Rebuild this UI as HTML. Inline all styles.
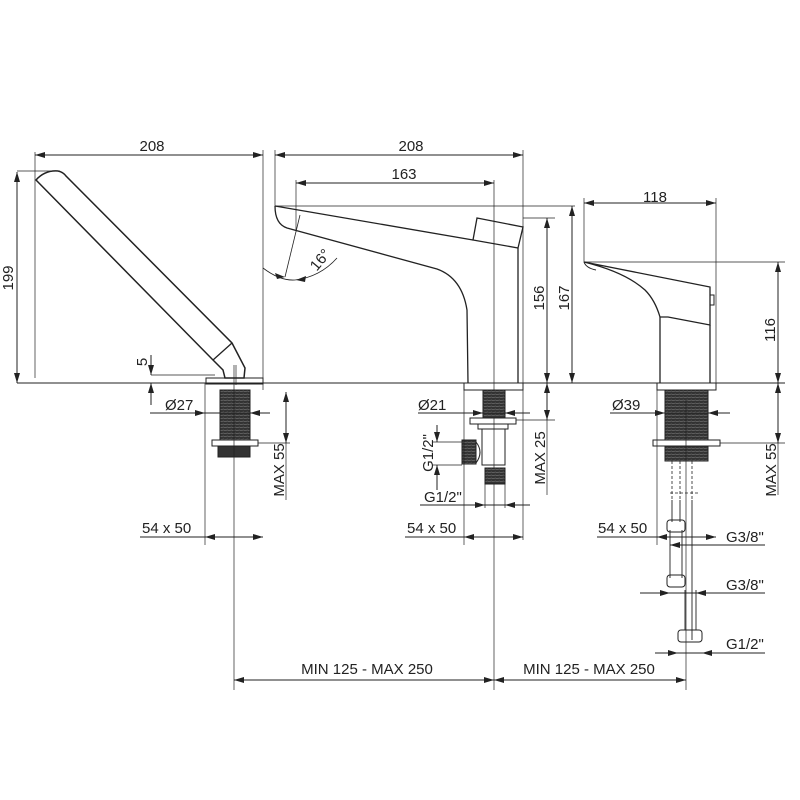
<!DOCTYPE html>
<html><head><meta charset="utf-8"><style>html,body{margin:0;padding:0;background:#fff}svg{display:block}text{font-family:"Liberation Sans",sans-serif;font-size:15px;fill:#222}</style></head>
<body>
<svg width="800" height="800" viewBox="0 0 800 800" xmlns="http://www.w3.org/2000/svg">
<defs>
<marker id="a" viewBox="0 0 10 6" refX="10" refY="3" markerWidth="10" markerHeight="6" orient="auto-start-reverse" markerUnits="userSpaceOnUse"><path d="M0,0L10,3L0,6z" fill="#222"/></marker>
<pattern id="th" width="4" height="3" patternUnits="userSpaceOnUse"><rect width="4" height="3" fill="#333"/><line x1="0" y1="1.5" x2="4" y2="1" stroke="#888" stroke-width="0.5"/></pattern>
</defs>
<g stroke="#222" stroke-width="1" fill="none">
<line x1="17" y1="383" x2="785" y2="383"/>
<!-- LEFT -->
<line x1="35" y1="155" x2="263" y2="155" marker-start="url(#a)" marker-end="url(#a)"/>
<line x1="35" y1="152" x2="35" y2="378" stroke-width="0.7"/>
<line x1="263" y1="150" x2="263" y2="390" stroke-width="0.7"/>
<line x1="17" y1="171" x2="60" y2="171" stroke-width="0.7"/>
<line x1="17" y1="172" x2="17" y2="383" marker-start="url(#a)" marker-end="url(#a)"/>
<path d="M36,180 Q45,170 58,171 Q63,172 66,176 L232,343 L245,368 L244,378 L225,378 L223,370 L213,360 Z" stroke-width="1.5"/>
<line x1="213" y1="360" x2="232" y2="343" stroke-width="1.3"/>
<line x1="236" y1="365" x2="236" y2="385" stroke-width="0.7"/>
<rect x="206" y="378" width="57" height="6"/>
<rect x="220" y="390" width="30" height="50" fill="url(#th)"/>
<rect x="212" y="440" width="46" height="6"/>
<rect x="218" y="446" width="32" height="11" fill="#333"/>
<line x1="151" y1="355" x2="151" y2="375" marker-end="url(#a)"/>
<line x1="151" y1="383" x2="151" y2="405" marker-start="url(#a)"/>
<line x1="151" y1="375" x2="215" y2="375" stroke-width="0.7"/>
<line x1="150" y1="413" x2="270" y2="413"/>
<path d="M205,413l-10,-3v6z M250,413l10,-3v6z" fill="#222" stroke="none"/>
<line x1="205" y1="383" x2="205" y2="545" stroke-width="0.7"/>
<line x1="258" y1="443" x2="290" y2="443" stroke-width="0.7"/>
<line x1="286" y1="392" x2="286" y2="443" marker-start="url(#a)" marker-end="url(#a)"/>
<line x1="286" y1="443" x2="286" y2="500" stroke-width="0.7"/>
<line x1="140" y1="537" x2="263" y2="537"/>
<path d="M205,537l10,-3v6z M263,537l-10,-3v6z" fill="#222" stroke="none"/>
<line x1="234" y1="365" x2="234" y2="690" stroke-width="0.7"/>
<line x1="234" y1="680" x2="494" y2="680" marker-start="url(#a)" marker-end="url(#a)"/>
<!-- MIDDLE -->
<line x1="275" y1="155" x2="523" y2="155" marker-start="url(#a)" marker-end="url(#a)"/>
<line x1="275" y1="150" x2="275" y2="206" stroke-width="0.7"/>
<line x1="523" y1="150" x2="523" y2="540" stroke-width="0.7"/>
<line x1="296" y1="183" x2="494" y2="183" marker-start="url(#a)" marker-end="url(#a)"/>
<line x1="296" y1="180" x2="296" y2="230" stroke-width="0.7"/>
<line x1="494" y1="180" x2="494" y2="690" stroke-width="0.7"/>
<line x1="275" y1="206" x2="575" y2="206" stroke-width="0.7"/>
<path d="M275,206 Q275,224 287,228 L437,269 Q462,278 467,310 L468,383" stroke-width="1.3"/>
<path d="M275,206 L473,240" stroke-width="1.3"/>
<path d="M477,218 L523,227 L518,248 L473,240 Z" stroke-width="1.3"/>
<line x1="518" y1="248" x2="518" y2="383" stroke-width="1.3"/>
<line x1="300" y1="215" x2="285" y2="277" stroke-width="0.8"/>
<path d="M263,268 Q280,281 295,280 Q320,277 337,258" stroke-width="0.8"/>
<path d="M285,277l-10,-4l2,6z M296,280l10,-4l-1,6z" fill="#222" stroke="none"/>
<line x1="523" y1="218" x2="555" y2="218" stroke-width="0.7"/>
<line x1="547" y1="218" x2="547" y2="383" marker-start="url(#a)" marker-end="url(#a)"/>
<line x1="572" y1="206" x2="572" y2="383" marker-start="url(#a)" marker-end="url(#a)"/>
<rect x="464" y="383" width="59" height="7"/>
<rect x="483" y="390" width="22" height="28" fill="url(#th)"/>
<rect x="470" y="418" width="46" height="6"/>
<rect x="478" y="424" width="30" height="5"/>
<rect x="482" y="429" width="23" height="36"/>
<rect x="462" y="440" width="14" height="24" fill="url(#th)"/>
<path d="M476,442 Q484,452 476,463"/>
<rect x="485" y="468" width="20" height="16" fill="url(#th)"/>
<line x1="418" y1="413" x2="530" y2="413"/>
<path d="M483,413l-10,-3v6z M505,413l10,-3v6z" fill="#222" stroke="none"/>
<line x1="437" y1="425" x2="437" y2="442" marker-end="url(#a)"/>
<line x1="437" y1="465" x2="437" y2="490" marker-start="url(#a)"/>
<line x1="432" y1="442" x2="462" y2="442" stroke-width="0.7"/>
<line x1="432" y1="465" x2="462" y2="465" stroke-width="0.7"/>
<line x1="420" y1="505" x2="530" y2="505"/>
<path d="M485,505l-10,-3v6z M505,505l10,-3v6z" fill="#222" stroke="none"/>
<line x1="485" y1="484" x2="485" y2="508" stroke-width="0.7"/>
<line x1="505" y1="484" x2="505" y2="508" stroke-width="0.7"/>
<line x1="464" y1="383" x2="464" y2="545" stroke-width="0.7"/>
<line x1="516" y1="420" x2="555" y2="420" stroke-width="0.7"/>
<line x1="547" y1="383" x2="547" y2="420" marker-start="url(#a)" marker-end="url(#a)"/>
<line x1="547" y1="420" x2="547" y2="495" stroke-width="0.7"/>
<line x1="405" y1="537" x2="523" y2="537"/>
<path d="M464,537l10,-3v6z M523,537l-10,-3v6z" fill="#222" stroke="none"/>
<line x1="494" y1="680" x2="686" y2="680" marker-start="url(#a)" marker-end="url(#a)"/>
<!-- RIGHT -->
<line x1="584" y1="203" x2="716" y2="203" marker-start="url(#a)" marker-end="url(#a)"/>
<line x1="584" y1="198" x2="584" y2="262" stroke-width="0.7"/>
<line x1="716" y1="198" x2="716" y2="383" stroke-width="0.7"/>
<line x1="584" y1="262" x2="785" y2="262" stroke-width="0.7"/>
<path d="M584,262 L710,287 L710,325 L668,317 L660,317 Q655,300 645,290 Q625,272 584,262 Z" stroke-width="1.3"/>
<path d="M584,262 Q586,268 596,270" stroke-width="1"/>
<rect x="710" y="295" width="4" height="10" stroke-width="1"/>
<path d="M660,317 L660,383 M710,325 L710,383" stroke-width="1.3"/>
<line x1="778" y1="262" x2="778" y2="383" marker-start="url(#a)" marker-end="url(#a)"/>
<rect x="657" y="383" width="59" height="7"/>
<rect x="665" y="390" width="43" height="50" fill="url(#th)"/>
<rect x="653" y="440" width="67" height="6"/>
<rect x="665" y="446" width="43" height="15" fill="url(#th)"/>
<line x1="610" y1="413" x2="730" y2="413"/>
<path d="M665,413l-10,-3v6z M708,413l10,-3v6z" fill="#222" stroke="none"/>
<line x1="720" y1="443" x2="785" y2="443" stroke-width="0.7"/>
<line x1="778" y1="383" x2="778" y2="443" marker-start="url(#a)" marker-end="url(#a)"/>
<line x1="778" y1="443" x2="778" y2="495" stroke-width="0.7"/>
<g stroke-dasharray="3,2" stroke-width="0.8"><line x1="672" y1="461" x2="672" y2="500"/><line x1="680" y1="461" x2="680" y2="500"/><line x1="692" y1="461" x2="692" y2="500"/><line x1="670" y1="493" x2="698" y2="493"/></g>
<path d="M672,500 V522 M680,500 V522 M670,530 V578 M682,530 V578 M685,590 V630 M696,590 V630 M692,500 V640" stroke-width="0.9"/>
<rect x="667" y="520" width="18" height="12" rx="3"/>
<rect x="667" y="575" width="18" height="12" rx="3"/>
<rect x="678" y="630" width="24" height="12" rx="3"/>
<line x1="657" y1="390" x2="657" y2="545" stroke-width="0.7"/>
<line x1="597" y1="537" x2="716" y2="537"/>
<path d="M657,537l10,-3v6z M716,537l-10,-3v6z" fill="#222" stroke="none"/>
<line x1="670" y1="545" x2="765" y2="545"/>
<path d="M670,545l10,-3v6z" fill="#222" stroke="none"/>
<line x1="640" y1="593" x2="765" y2="593"/>
<path d="M670,593l-10,-3v6z M696,593l10,-3v6z" fill="#222" stroke="none"/>
<line x1="655" y1="653" x2="765" y2="653"/>
<path d="M678,653l-10,-3v6z M702,653l10,-3v6z" fill="#222" stroke="none"/>
<line x1="686" y1="400" x2="686" y2="690" stroke-width="0.7"/>
</g>
<text x="152" y="151" text-anchor="middle">208</text>
<text x="411" y="151" text-anchor="middle">208</text>
<text x="404" y="179" text-anchor="middle">163</text>
<text x="655" y="202" text-anchor="middle">118</text>
<text transform="translate(13,278) rotate(-90)" text-anchor="middle">199</text>
<text transform="translate(147,362) rotate(-90)" text-anchor="middle">5</text>
<text x="165" y="410">Ø27</text>
<text x="418" y="410">Ø21</text>
<text x="612" y="410">Ø39</text>
<text transform="translate(284,470) rotate(-90)" text-anchor="middle">MAX 55</text>
<text transform="translate(776,470) rotate(-90)" text-anchor="middle">MAX 55</text>
<text transform="translate(545,458) rotate(-90)" text-anchor="middle">MAX 25</text>
<text transform="translate(544,298) rotate(-90)" text-anchor="middle">156</text>
<text transform="translate(569,298) rotate(-90)" text-anchor="middle">167</text>
<text transform="translate(775,330) rotate(-90)" text-anchor="middle">116</text>
<text transform="translate(324,263) rotate(-50)" text-anchor="middle">16°</text>
<text transform="translate(433,453) rotate(-90)" text-anchor="middle">G1/2"</text>
<text x="424" y="502">G1/2"</text>
<text x="142" y="533">54 x 50</text>
<text x="407" y="533">54 x 50</text>
<text x="598" y="533">54 x 50</text>
<text x="726" y="542">G3/8"</text>
<text x="726" y="590">G3/8"</text>
<text x="726" y="649">G1/2"</text>
<text x="367" y="674" text-anchor="middle">MIN 125 - MAX 250</text>
<text x="589" y="674" text-anchor="middle">MIN 125 - MAX 250</text>
</svg>
</body></html>
